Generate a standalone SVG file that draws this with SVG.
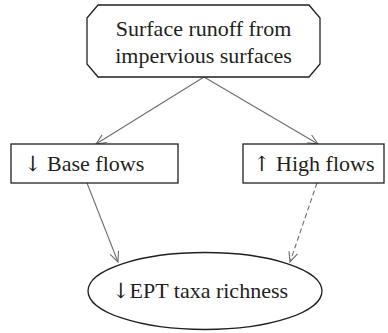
<svg xmlns="http://www.w3.org/2000/svg" width="388" height="333" viewBox="0 0 388 333">
<style>
.node{fill:#fff;stroke:#231f20;stroke-width:1.3}
.lbl{font-family:"Liberation Serif","Times New Roman",serif;font-size:22px;fill:#231f20}
.arr{font-family:"DejaVu Serif",serif;font-size:21px}
.conn{stroke:#6d6e71;stroke-width:1.1;fill:none}
.dash{stroke-dasharray:5,3}
</style>
<defs>
<marker id="ah" markerWidth="12" markerHeight="12" refX="11" refY="6" orient="auto" markerUnits="userSpaceOnUse">
<path d="M1,1.5 L11,6 L1,10.5" fill="none" stroke="#6d6e71" stroke-width="1.1"/>
</marker>
</defs>
<g id="connectors">
<line class="conn" x1="204" y1="77" x2="96" y2="144" marker-end="url(#ah)"/>
<line class="conn" x1="204" y1="77" x2="318" y2="144" marker-end="url(#ah)"/>
<line class="conn" x1="87" y1="183" x2="118" y2="262" marker-end="url(#ah)"/>
<line class="conn dash" x1="317" y1="183" x2="290" y2="262" marker-end="url(#ah)"/>
</g>
<g id="surface-runoff">
<polygon class="node" points="98,5 309,5 320,18 320,64 309,77 98,77 87,64 87,18"/>
<text class="lbl" x="203.5" y="36" text-anchor="middle">Surface runoff from</text>
<text class="lbl" x="203.5" y="63" text-anchor="middle">impervious surfaces</text>
</g>
<g id="base-flows">
<rect class="node" x="11" y="144" width="167" height="39"/>
<text class="lbl" x="24" y="171"><tspan class="arr">↓</tspan> Base flows</text>
</g>
<g id="high-flows">
<rect class="node" x="243" y="144" width="141" height="39"/>
<text class="lbl" x="253" y="171"><tspan class="arr">↑</tspan> High flows</text>
</g>
<g id="ept">
<ellipse class="node" cx="205" cy="291" rx="117" ry="38.5"/>
<text class="lbl" x="200" y="298" text-anchor="middle"><tspan class="arr">↓</tspan>EPT taxa richness</text>
</g>
</svg>
